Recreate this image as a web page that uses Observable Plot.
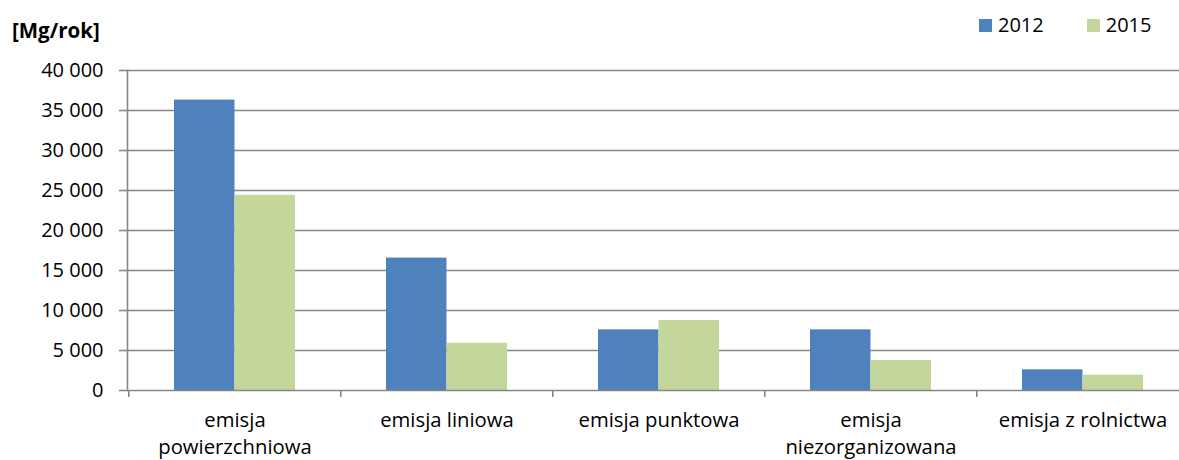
<!DOCTYPE html>
<html>
<head>
<meta charset="utf-8">
<script src="https://cdn.jsdelivr.net/npm/d3@7"></script>
<script src="https://cdn.jsdelivr.net/npm/@observablehq/plot@0.6"></script>
<style>
  html, body { margin: 0; padding: 0; background: #fff; overflow: hidden; }
  #wrap { position: relative; width: 1179px; height: 460px; overflow: hidden; font-family: "Open Sans", sans-serif; color: #000; }
  #unit { position: absolute; left: 12px; top: 20px; font-weight: bold; font-size: 20.5px; line-height: 1; }
  #legend { position: absolute; left: 979px; top: 15px; display: flex; align-items: center; font-size: 20px; line-height: 1; }
  .sw { width: 13px; height: 13px; display: inline-block; margin-right: 6px; }
  .item { display: flex; align-items: center; }
  #chart { position: absolute; left: 0; top: 0; }
  #chart svg { overflow: hidden; }
</style>
</head>
<body>
<div id="wrap">
  <div id="chart"></div>
  <div id="unit">[Mg/rok]</div>
  <div id="legend"></div>
</div>
<script>
const categories = ["emisja powierzchniowa", "emisja liniowa", "emisja punktowa", "emisja niezorganizowana", "emisja z rolnictwa"];
const categoryLabels = ["emisja\npowierzchniowa", "emisja liniowa", "emisja punktowa", "emisja\nniezorganizowana", "emisja z rolnictwa"];
const years = ["2012", "2015"];
const values2012 = [36300, 16550, 7580, 7580, 2580];
const values2015 = [24400, 5900, 8740, 3750, 1910];
const yTicks = [0, 5000, 10000, 15000, 20000, 25000, 30000, 35000, 40000];
const colors = ["#4F81BD", "#C3D69B"];

const data = [];
categories.forEach((c, i) => {
  data.push({category: c, year: years[0], value: values2012[i]});
  data.push({category: c, year: years[1], value: values2015[i]});
});

const W = 1179, H = 460;
const mL = 127, mR = -10, mT = 70, mB = 70;
const nCat = categories.length;
const step = (W - mL - mR) / nCat;
const groupW = 121;
const pad = 1 - groupW / step;
const half = groupW / 2;

const fmt = d => d3.format(",")(d).replace(/,/g, " ");
const labelOf = Object.fromEntries(categories.map((c, i) => [c, categoryLabels[i]]));
const gray = "#868686";

const plot = Plot.plot({
  width: W, height: H,
  marginLeft: mL, marginRight: mR, marginTop: mT, marginBottom: mB,
  style: {fontFamily: "Open Sans, sans-serif", fontSize: "20px", color: "#000", background: "transparent"},
  x: {domain: categories, paddingInner: pad, paddingOuter: pad / 2, label: null},
  y: {domain: [0, 40000], label: null},
  marks: [
    Plot.ruleY(yTicks.filter(d => d > 0), {stroke: gray, strokeWidth: 1.6, strokeOpacity: 1}),
    Plot.barY(data.filter(d => d.year === years[0]), {x: "category", y: "value", fill: colors[0], insetRight: half}),
    Plot.barY(data.filter(d => d.year === years[1]), {x: "category", y: "value", fill: colors[1], insetLeft: half}),
    Plot.ruleY([0], {stroke: gray, strokeWidth: 1.6, strokeOpacity: 1}),
    Plot.axisY({ticks: yTicks, tickFormat: fmt, tickSize: 8, tickPadding: 16, stroke: gray, strokeWidth: 1.6, strokeOpacity: 1, fontSize: 20, fill: "#000"}),
    Plot.axisX({text: null, tickSize: 7, dx: -step / 2, stroke: gray, strokeWidth: 1.6, strokeOpacity: 1}),
    Plot.axisX({tickSize: 0, tickPadding: 18, tickFormat: d => labelOf[d], lineHeight: 1.3, fontSize: 20.3, fill: "#000", textOverflow: null}),
    Plot.frame({anchor: "left", stroke: gray, strokeWidth: 1.6, strokeOpacity: 1})
  ]
});
document.getElementById("chart").appendChild(plot);

const legend = document.getElementById("legend");
years.forEach((y, i) => {
  const it = document.createElement("div");
  it.className = "item";
  if (i > 0) it.style.marginLeft = "43px";
  const sw = document.createElement("span");
  sw.className = "sw";
  sw.style.background = colors[i];
  const t = document.createElement("span");
  t.textContent = y;
  it.appendChild(sw); it.appendChild(t);
  legend.appendChild(it);
});
</script>
</body>
</html>
